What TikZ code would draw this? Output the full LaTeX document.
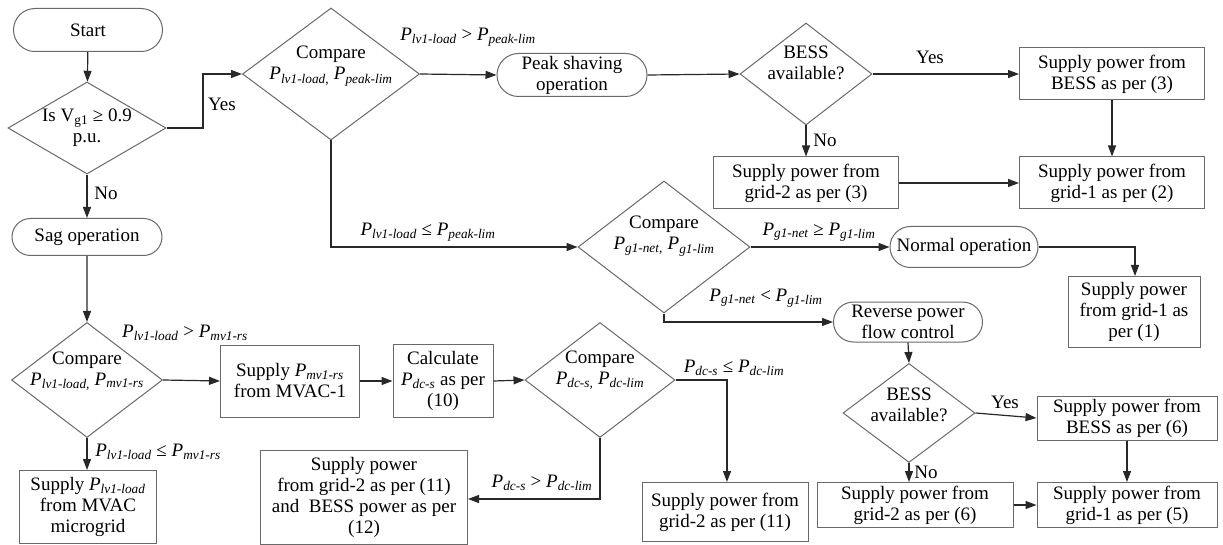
\documentclass[tikz,border=0pt]{standalone}
\usepackage{fontspec}
\setmainfont{Liberation Serif}
\newfontfamily\tnr{Liberation Serif}
\usetikzlibrary{shapes.geometric,shapes.misc,arrows.meta,calc}
\newcommand{\pvar}[1]{{\itshape P}\textsubscript{\itshape #1}}
\definecolor{shp}{RGB}{105,105,105}
\definecolor{conn}{RGB}{40,40,40}
\begin{document}
\begin{tikzpicture}[x=1pt,y=-1pt,
  every node/.style={font=\tnr\fontsize{19}{21}\selectfont, text=black},
  box/.style={draw=shp, line width=1pt, rectangle, align=center, inner sep=0pt},
  term/.style={draw=shp, line width=1pt, rounded rectangle, align=center, inner sep=0pt},
  dia/.style={draw=shp, line width=1pt, diamond, inner sep=0pt},
  txt/.style={align=center, inner sep=0pt},
  lbl/.style={inner sep=0pt},
  arr/.style={draw=conn, line width=1.2pt, -{Triangle[length=11pt,width=8pt]}}]
\useasboundingbox (0,0) rectangle (1223,545);

% top-left
\node[term, minimum width=149pt, minimum height=43pt] (start) at (88,30) {Start};
\node[dia, minimum width=158pt, minimum height=92pt] (d1) at (87,128) {};
\node[txt] (d1t) at (87,128) {Is V\textsubscript{g1} ≥ 0.9\\p.u.};
\node[term, minimum width=150pt, minimum height=37pt] (sag) at (87,237) {Sag operation};

\node[dia, minimum width=177pt, minimum height=132pt] (c1) at (331,74) {};
\node[txt] (c1t) at (331,66) {Compare\\\pvar{lv1-load,} \pvar{peak-lim}};
\node[term, minimum width=150pt, minimum height=43pt] (peak) at (572,75) {Peak shaving\\operation};
\node[dia, minimum width=132pt, minimum height=102pt] (b1) at (806,74) {};
\node[txt] (b1t) at (806,63) {BESS\\available?};
\node[box, minimum width=185pt, minimum height=52pt] (s3b) at (1112,74) {Supply power from\\BESS as per (3)};
\node[box, minimum width=185pt, minimum height=52pt] (s3g2) at (806,183) {Supply power from\\grid-2 as per (3)};
\node[box, minimum width=185pt, minimum height=52pt] (s2g1) at (1112,183) {Supply power from\\grid-1 as per (2)};

\node[dia, minimum width=172pt, minimum height=132pt] (c2) at (664,247) {};
\node[txt] (c2t) at (664,236) {Compare\\\pvar{g1-net,} \pvar{g1-lim}};
\node[term, minimum width=148pt, minimum height=41pt] (normal) at (964,247) {Normal operation};
\node[box, minimum width=132pt, minimum height=71pt] (s1) at (1134,312) {Supply power\\from grid-1 as\\per (1)};
\node[term, minimum width=149pt, minimum height=40pt] (rev) at (908,322) {Reverse power\\flow control};
\node[dia, minimum width=132pt, minimum height=99pt] (b2) at (909,413) {};
\node[txt] (b2t) at (909,405) {BESS\\available?};
\node[box, minimum width=180pt, minimum height=44pt] (s6b) at (1127,418) {Supply power from\\BESS as per (6)};
\node[box, minimum width=180pt, minimum height=45pt] (s5g1) at (1127,505) {Supply power from\\grid-1 as per (5)};
\node[box, minimum width=196pt, minimum height=45pt] (s6g2) at (915,505) {Supply power from\\grid-2 as per (6)};

% bottom-left
\node[dia, minimum width=151pt, minimum height=115pt] (c3) at (87,380) {};
\node[txt] (c3t) at (87,371) {Compare\\\pvar{lv1-load,} \pvar{mv1-rs}};
\node[box, minimum width=139pt, minimum height=72pt] (smv) at (290,381) {Supply \pvar{mv1-rs}\\from MVAC-1};
\node[box, minimum width=100pt, minimum height=73pt] (calc) at (443,381) {Calculate\\\pvar{dc-s} as per\\(10)};
\node[dia, minimum width=150pt, minimum height=115pt] (c4) at (600,380) {};
\node[txt] (c4t) at (600,370) {Compare\\\pvar{dc-s,} \pvar{dc-lim}};
\node[box, minimum width=166pt, minimum height=59pt] (s11) at (725,512) {Supply power from\\grid-2 as per (11)};
\node[box, minimum width=207pt, minimum height=94pt] (s12) at (364,497) {Supply power\\from grid-2 as per (11)\\and \ BESS power as per\\(12)};
\node[box, minimum width=137pt, minimum height=73pt] (smg) at (88,507) {Supply \pvar{lv1-load}\\from MVAC\\microgrid};

% coordinates for bends
\coordinate (k1) at (203,128);
\coordinate (k2) at (203,74);
\coordinate (k3) at (331,247);
\coordinate (k4) at (1135,247);
\coordinate (k5) at (664,322);
\coordinate (k6) at (727,380);
\coordinate (k7) at (600,499);

% connectors
\draw[arr] (start) -- (d1);
\draw[arr] (d1.east) -- (k1) -- (k2) -- (c1.west);
\draw[arr] (d1) -- (sag);
\draw[arr] (c1.east) -- (peak.west);
\draw[arr] (peak.east) -- (b1.west);
\draw[arr] (b1.east) -- (s3b.west);
\draw[arr] (b1.south) -- (s3g2.north);
\draw[arr] (s3b.south) -- (s2g1.north);
\draw[arr] (s3g2.east) -- (s2g1.west);
\draw[arr] (c1.south) -- (k3) -- (c2.west);
\draw[arr] (c2.east) -- (normal.west);
\draw[arr] (normal.east) -- (k4) -- (s1.north -| k4);
\draw[arr] (c2.south) -- (k5) -- (rev.west);
\draw[arr] (rev.south) -- (b2.north);
\draw[arr] (b2.east) -- (s6b.west);
\draw[arr] (b2.south) -- (b2.south |- s6g2.north);
\draw[arr] (s6b.south) -- (s5g1.north);
\draw[arr] (s6g2.east) -- (s5g1.west);
\draw[arr] (sag) -- (c3);
\draw[arr] (c3.east) -- (smv.west);
\draw[arr] (c3.south) -- (c3.south |- smg.north);
\draw[arr] (smv.east) -- (calc.west);
\draw[arr] (calc.east) -- (c4.west);
\draw[arr] (c4.east) -- (k6) -- (k6 |- s11.north);
\draw[arr] (c4.south) -- (k7) -- (k7 -| s12.east);

% labels
\node[lbl] (l1) at (222,104) {Yes};
\node[lbl] (l2) at (106,193) {No};
\node[lbl] (l3) at (468,37) {\pvar{lv1-load} > \pvar{peak-lim}};
\node[lbl] (l4) at (930,57) {Yes};
\node[lbl] (l5) at (825,140) {No};
\node[lbl] (l6) at (428,232) {\pvar{lv1-load} ≤ \pvar{peak-lim}};
\node[lbl] (l7) at (819,232) {\pvar{g1-net} ≥ \pvar{g1-lim}};
\node[lbl] (l8) at (766,298) {\pvar{g1-net} < \pvar{g1-lim}};
\node[lbl] (l9) at (1005,402) {Yes};
\node[lbl] (l10) at (926,472) {No};
\node[lbl] (l11) at (185,333) {\pvar{lv1-load} > \pvar{mv1-rs}};
\node[lbl] (l12) at (158,452) {\pvar{lv1-load} ≤ \pvar{mv1-rs}};
\node[lbl] (l13) at (734,368) {\pvar{dc-s} ≤ \pvar{dc-lim}};
\node[lbl] (l14) at (542,483) {\pvar{dc-s} > \pvar{dc-lim}};
\end{tikzpicture}
\end{document}
